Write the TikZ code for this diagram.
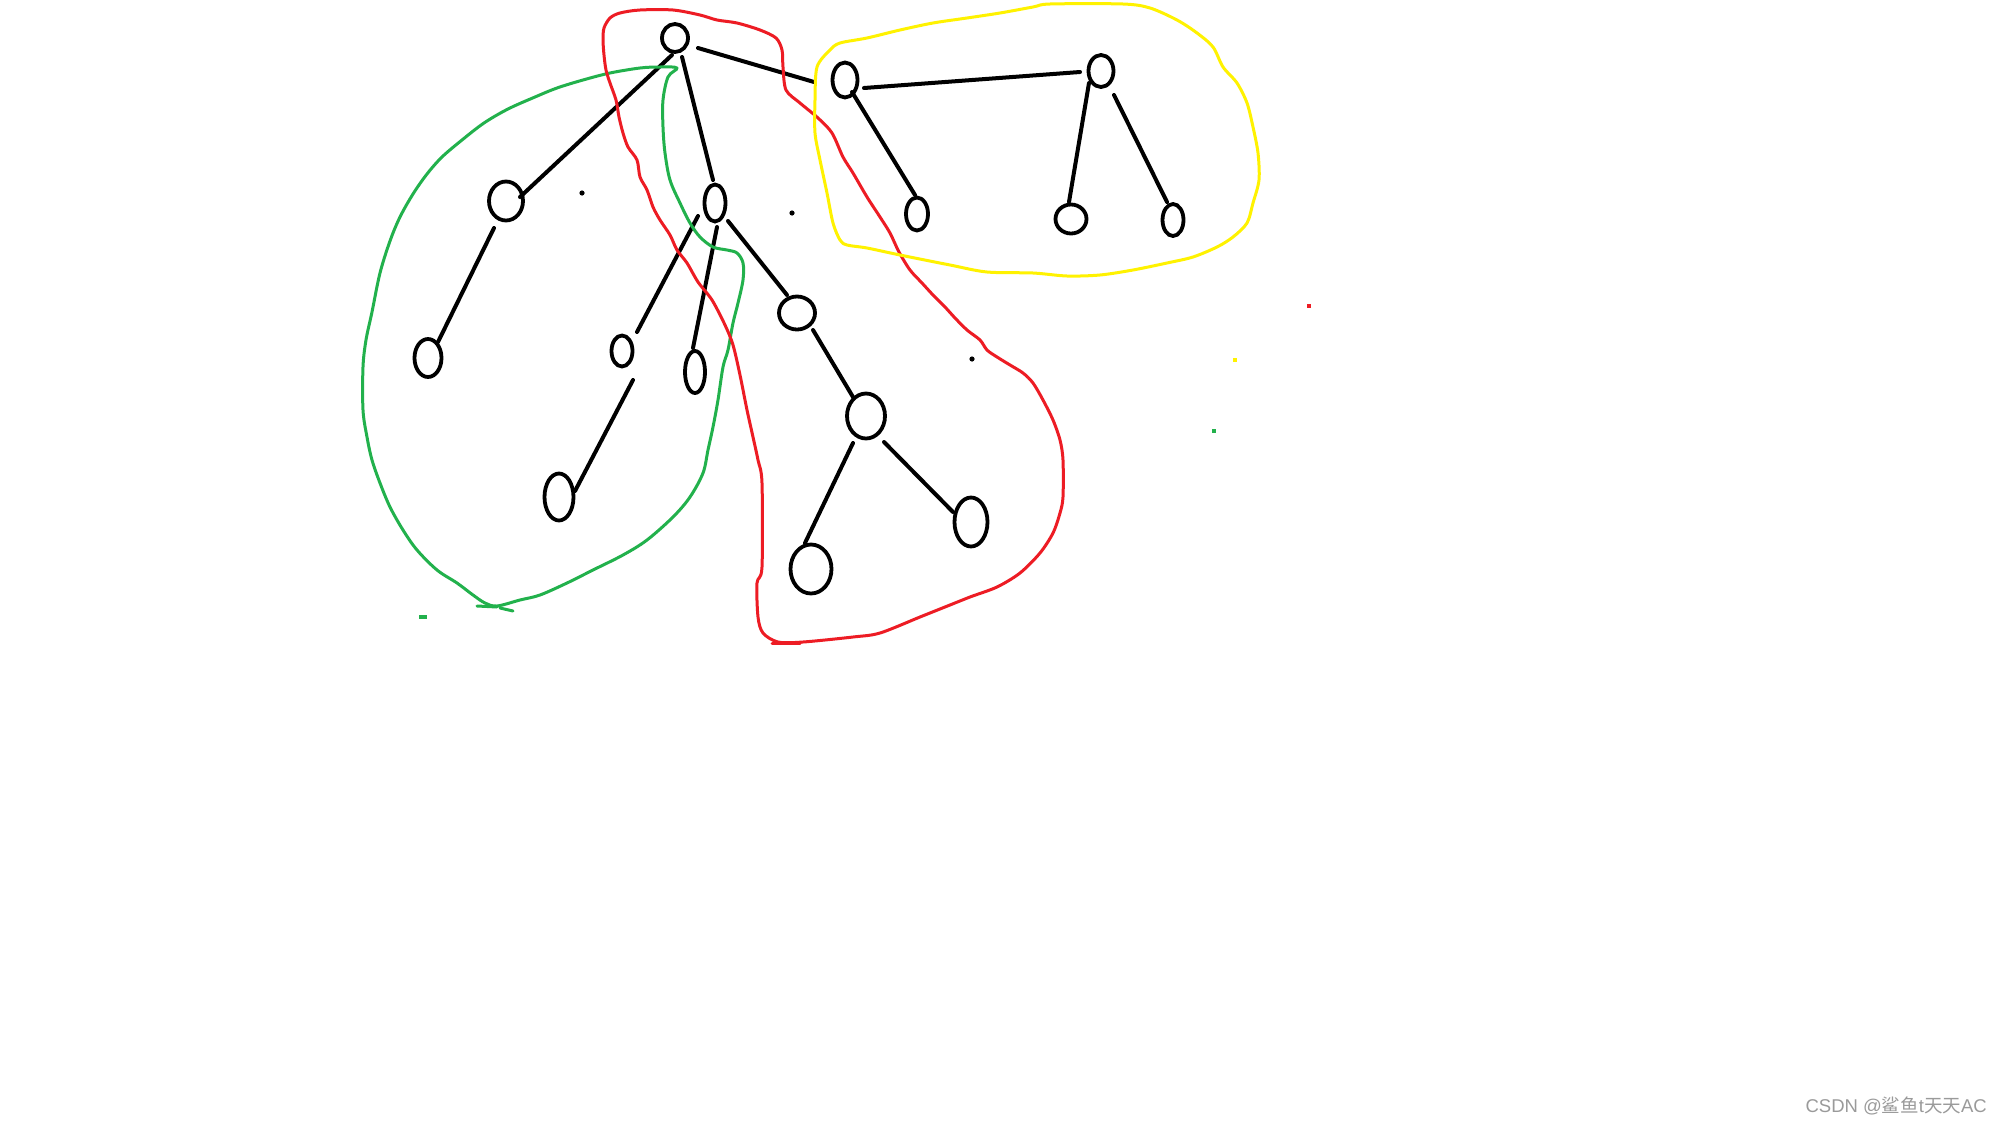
\documentclass[tikz,border=0pt]{standalone}
\usepackage{fontspec}
\setmainfont{Liberation Sans}
\newfontfamily\cjkfont{Noto Sans CJK SC}
\usetikzlibrary{shapes.geometric,calc}
\definecolor{pred}{HTML}{ED1C24}
\definecolor{pgreen}{HTML}{22B14C}
\definecolor{pyellow}{HTML}{FFF200}
\definecolor{wmgray}{HTML}{9A9A9A}
\begin{document}
\begin{tikzpicture}[x=1pt,y=-1pt,
  vtx/.style={ellipse,draw=black,line width=3.8pt,inner sep=0pt,outer sep=0pt},
  sz/.style 2 args={minimum width=#1pt,minimum height=#2pt},
  edgeline/.style={draw=black,line width=4pt,line cap=round},
  hull/.style={line width=3pt,line join=round,line cap=round}]
\useasboundingbox (0,0) rectangle (2000,1125);
\fill[white] (0,0) rectangle (2000,1125);

% ---- vertices ----
\node[vtx,sz={26}{28}] (root) at (675,38) {};
\node[vtx,sz={34}{39}] (A) at (506,201) {};
\node[vtx,sz={21}{37}] (B) at (715,203) {};
\node[vtx,sz={36}{33}] (C) at (797,313) {};
\node[vtx,sz={27}{38}] (D) at (428,358) {};
\node[vtx,sz={21}{31}] (E) at (622,351) {};
\node[vtx,sz={20}{42}] (F) at (695,372) {};
\node[vtx,sz={29}{47}] (H) at (559,497) {};
\node[vtx,sz={38}{45}] (I) at (866,416) {};
\node[vtx,sz={41}{49}] (J) at (811,569) {};
\node[vtx,sz={33}{49}] (K) at (971,522) {};
\node[vtx,sz={25}{35}] (G) at (845,80) {};
\node[vtx,sz={25}{32}] (L) at (1101,71) {};
\node[vtx,sz={22}{33}] (M) at (917,214) {};
\node[vtx,sz={31}{29}] (N) at (1071,219) {};
\node[vtx,sz={21}{32}] (O) at (1173,220) {};

% ---- edges ----
\draw[edgeline] ($(root)+(-3,17)$) -- ($(A)+(14,-4)$);
\draw[edgeline] ($(root)+(7,19)$) -- ($(B)+(-2,-23)$);
\draw[edgeline] ($(root)+(23,10)$) -- ($(G)+(-31,2)$);
\draw[edgeline] ($(A)+(-12,27)$) -- ($(D)+(10,-16)$);
\draw[edgeline] ($(B)+(-17,13)$) -- ($(E)+(15,-19)$);
\draw[edgeline] ($(B)+(2,24)$) -- ($(F)+(-2,-24)$);
\draw[edgeline] ($(B)+(13,18)$) -- ($(C)+(-10,-18)$);
\draw[edgeline] ($(E)+(11,29)$) -- ($(H)+(16,-6)$);
\draw[edgeline] ($(C)+(16,17)$) -- ($(I)+(-13,-19)$);
\draw[edgeline] ($(I)+(-13,27)$) -- ($(J)+(-6,-26)$);
\draw[edgeline] ($(I)+(18,26)$) -- ($(K)+(-18,-10)$);
\draw[edgeline] ($(G)+(19,8)$) -- ($(L)+(-21,1)$);
\draw[edgeline] ($(G)+(7,12)$) -- ($(M)+(-2,-19)$);
\draw[edgeline] ($(L)+(-12,12)$) -- ($(N)+(-2,-17)$);
\draw[edgeline] ($(L)+(13,24)$) -- ($(O)+(-6,-18)$);

% ---- stray dots ----
\fill (582,193) circle (2.6pt);
\fill (792,213) circle (2.6pt);
\fill (972,359) circle (2.6pt);
\fill[pred] (1307,304) rectangle (1311,308);
\fill[pyellow] (1233,358) rectangle (1237,362);
\fill[pgreen] (1212,429) rectangle (1216,433);
\fill[pgreen] (419,615) rectangle (427,619);

% ---- green hull ----
\draw[hull,pgreen] plot[smooth cycle,tension=0.55] coordinates {
(677,68) (660,67) (640,68) (610,73) (583,80) (557,88) (535,97) (508,109)
(484,123) (462,140) (442,157) (427,174) (413,194) (400,217) (390,241)
(380,273) (372,312) (366,340) (363,367) (363,410) (367,437) (372,460)
(380,483) (390,507) (403,530) (417,550) (437,570) (457,583) (473,595)
(485,603) (497,606) (520,600) (540,595) (567,583) (593,570) (623,555)
(647,540) (673,517) (690,497) (703,473) (708,450) (713,427) (718,400)
(723,367) (728,350) (733,323) (738,303) (743,280) (743,263) (737,253)
(727,250) (713,247) (700,237) (690,223) (680,203) (670,180) (665,153)
(663,127) (663,100) (668,77)};
\draw[hull,pgreen] (477,606) -- (497,607);
\draw[hull,pgreen] (500,608) -- (513,611);

% ---- red hull ----
\draw[hull,pred] plot[smooth cycle,tension=0.5] coordinates {
(763,633) (758,617) (757,583) (762,567) (762,483) (758,460) (753,437)
(747,410) (740,375) (733,345) (725,325) (712,300) (698,282) (687,263)
(677,250) (670,235) (660,220) (653,207) (647,190) (640,177) (637,160)
(628,147) (623,133) (619,117) (616,100) (610,83) (606,70) (604,55)
(603,40) (604,28) (610,18) (620,13) (640,10) (673,10) (700,15) (717,20)
(737,23) (760,30) (776,38) (782,50) (783,67) (786,90) (800,103)
(818,118) (832,133) (843,157) (853,173) (867,197) (880,217) (890,233)
(899,252) (910,270) (922,283) (933,295) (945,307) (955,318) (967,330)
(980,340) (987,350) (997,357) (1010,365) (1023,373) (1033,383)
(1043,400) (1053,420) (1060,440) (1063,460) (1063,497) (1060,513)
(1053,533) (1040,553) (1020,573) (997,587) (970,597) (945,607)
(920,617) (880,633) (853,637) (803,642) (778,642)};
\draw[hull,pred] (772,643) -- (800,643);

% ---- yellow hull ----
\draw[hull,pyellow] plot[smooth cycle,tension=0.5] coordinates {
(817,67) (830,50) (840,43) (867,38) (900,30) (933,23) (967,18)
(1000,13) (1033,7) (1050,4) (1123,4) (1150,8) (1177,20) (1197,33)
(1213,47) (1223,67) (1237,83) (1247,103) (1253,127) (1258,153)
(1259,180) (1253,203) (1247,223) (1233,237) (1217,247) (1193,257)
(1167,263) (1133,270) (1100,275) (1067,276) (1033,273) (987,272)
(950,265) (900,255) (867,248) (847,245) (840,240) (833,223) (827,193)
(820,160) (815,133) (815,100)};

% ---- watermark ----
\node[anchor=base east,inner sep=0pt,text=wmgray,font=\fontsize{18.5}{18.5}\selectfont] (wm) at (1987,1112)
  {CSDN @{\cjkfont 鲨鱼}t{\cjkfont 天天}AC};
\end{tikzpicture}
\end{document}
